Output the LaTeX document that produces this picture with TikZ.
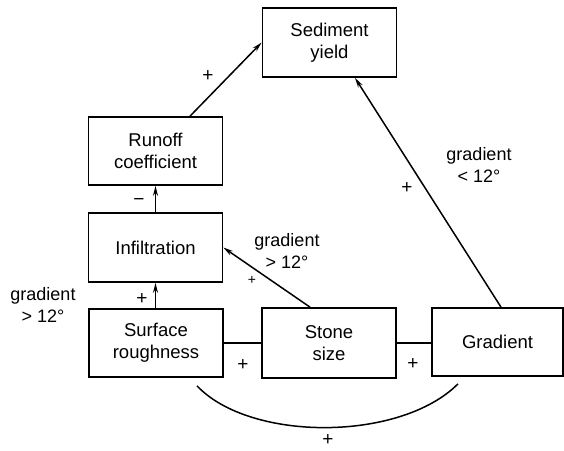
\documentclass[tikz,border=0pt]{standalone}
\usepackage{fontspec}
\setmainfont{Liberation Sans}
\usetikzlibrary{arrows.meta}
\begin{document}
\begin{tikzpicture}[x=1pt,y=-1pt,
  box/.style={draw, line width=1.7pt, minimum width=134pt, minimum height=68pt, align=center, inner sep=0pt, font=\fontsize{18.5}{22}\selectfont},
  conn/.style={line width=1.5pt},
  arr/.style={conn,-{Stealth[length=10pt,width=5pt]}},
  lbl/.style={align=center, inner sep=0pt, font=\fontsize{18}{22}\selectfont},
  sgn/.style={inner sep=0pt, font=\fontsize{19}{22}\selectfont},
  ssgn/.style={inner sep=0pt, font=\fontsize{14}{16}\selectfont}]
\useasboundingbox (0,0) rectangle (564,450);
\node[box, minimum height=69pt] (sed) at (329.5,42.5) {Sediment\\yield};
\node[box] (run) at (155.5,151) {Runoff\\coefficient};
\node[box, minimum height=69pt] (inf) at (155.5,247.5) {Infiltration};
\node[box] (sur) at (156,343) {Surface\\roughness};
\node[box, minimum height=70pt] (sto) at (329,343) {Stone\\size};
\node[box, minimum width=131pt] (gra) at (497.5,342) {Gradient};

\draw[arr] ([xshift=34.5pt]run.north) -- (sed.west);
\draw[arr] (inf.north) -- (run.south);
\draw[arr] (sur.north -| inf.south) -- (inf.south);
\draw[arr] ([xshift=-19pt]sto.north) -- (inf.east);
\draw[arr] ([xshift=3.5pt]gra.north) -- ([xshift=25.5pt]sed.south);
\draw[conn] (sur.east) -- (sto.west);
\draw[conn] (sto.east) -- (sto.east -| gra.west);
\coordinate (a1) at ([xshift=41pt,yshift=-8pt]sur.south);
\coordinate (a2) at ([xshift=-39.5pt,yshift=-7pt]gra.south);
\draw[conn] (a1) .. controls ([xshift=53pt,yshift=-56pt]a1) and ([xshift=-58pt,yshift=-58pt]a2) .. (a2);

\node[sgn] (p1) at (208,76) {+};
\node[sgn] (m1) at (139,202) {−};
\node[sgn] (p2) at (142,299) {+};
\node[ssgn] (p3) at (252,280) {+};
\node[sgn] (p4) at (243,365) {+};
\node[sgn] (p5) at (413,364) {+};
\node[sgn] (p6) at (328,440) {+};
\node[sgn] (p7) at (407,188) {+};
\node[lbl] (g1) at (287,251) {gradient\\> 12°};
\node[lbl] (g2) at (43,305) {gradient\\> 12°};
\node[lbl] (g3) at (479,165) {gradient\\< 12°};
\end{tikzpicture}
\end{document}
